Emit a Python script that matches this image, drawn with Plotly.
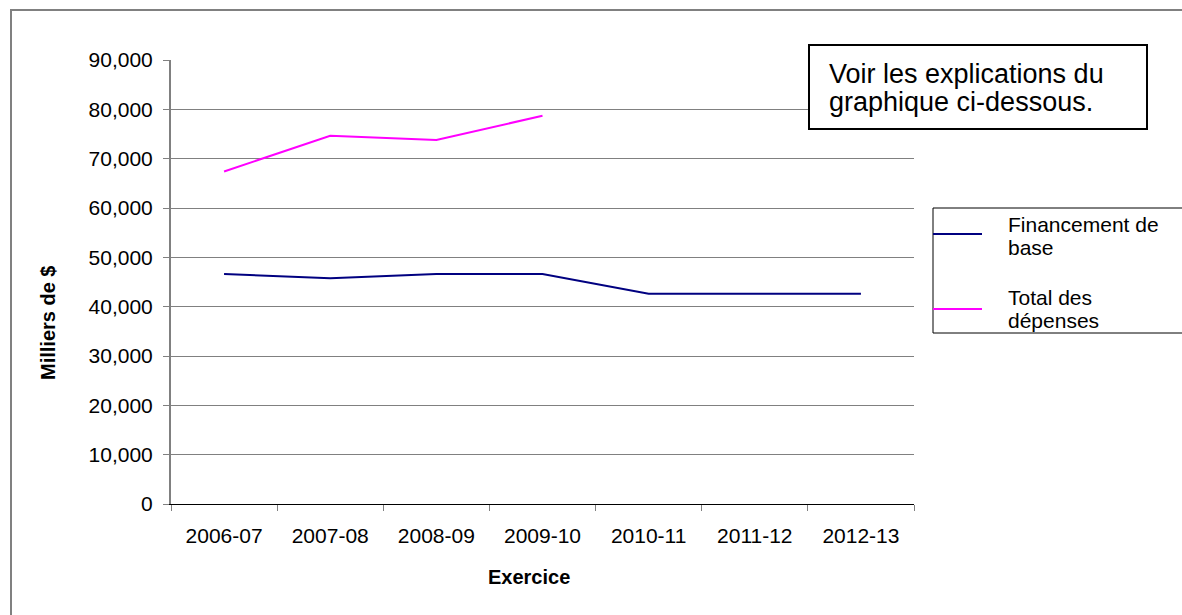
import plotly.graph_objects as go

categories = ["2006-07", "2007-08", "2008-09", "2009-10", "2010-11", "2011-12", "2012-13"]
financement_base = [46600, 45750, 46600, 46600, 42600, 42600, 42600]
total_depenses = [67400, 74650, 73800, 78700, None, None, None]
y_ticks = [0, 10000, 20000, 30000, 40000, 50000, 60000, 70000, 80000, 90000]
y_ticktext = ["0", "10,000", "20,000", "30,000", "40,000", "50,000", "60,000", "70,000", "80,000", "90,000"]

NAVY = "#000080"
MAGENTA = "#FF00FF"
GRAY = "#808080"
FONT = "Liberation Sans, Arial, sans-serif"

W, H = 1182, 615
L, R, T, B = 171, 914, 60, 504

def px(x):
    return (x - L) / (R - L)

def py(y):
    return (B - y) / (B - T)

fig = go.Figure()
fig.add_trace(go.Scatter(x=categories, y=financement_base, mode="lines",
                         line=dict(color=NAVY, width=2), name="Financement de base",
                         showlegend=False))
fig.add_trace(go.Scatter(x=categories, y=total_depenses, mode="lines",
                         line=dict(color=MAGENTA, width=2), name="Total des dépenses",
                         showlegend=False, connectgaps=False))

fig.update_layout(
    width=W, height=H, autosize=False,
    margin=dict(l=L, r=W - R, t=T, b=H - B, pad=0),
    paper_bgcolor="white", plot_bgcolor="white",
    font=dict(family=FONT, size=21, color="black"),
    showlegend=False,
)
fig.update_xaxes(
    type="category", range=[-0.5, 6.5],
    showgrid=False, showline=True, linecolor="black", linewidth=1,
    ticks="outside", tickson="boundaries", ticklen=6, tickcolor=GRAY, tickwidth=1,
    ticklabelstandoff=13,
    tickfont=dict(family=FONT, size=21, color="black"),
)
fig.update_yaxes(
    range=[0, 90000], tickvals=y_ticks, ticktext=y_ticktext,
    showgrid=True, gridcolor=GRAY, gridwidth=1,
    showline=True, linecolor=GRAY, linewidth=2,
    ticks="outside", ticklen=6, tickcolor=GRAY, tickwidth=1,
    ticklabelstandoff=6, zeroline=False,
    tickfont=dict(family=FONT, size=21, color="black"),
)

shapes = []
# outer border (extends past the image at right and bottom)
shapes.append(dict(type="rect", xref="paper", yref="paper",
                   x0=px(11), x1=px(1195), y0=py(630), y1=py(10),
                   line=dict(color=GRAY, width=2), fillcolor="rgba(0,0,0,0)", layer="below"))
# note box
shapes.append(dict(type="rect", xref="paper", yref="paper",
                   x0=px(809), x1=px(1147), y0=py(129), y1=py(45),
                   line=dict(color="black", width=2), fillcolor="white"))
# legend box
shapes.append(dict(type="rect", xref="paper", yref="paper",
                   x0=px(933), x1=px(1200), y0=py(333), y1=py(208),
                   line=dict(color="black", width=1), fillcolor="white"))
shapes.append(dict(type="line", xref="paper", yref="paper",
                   x0=px(933), x1=px(982), y0=py(234), y1=py(234),
                   line=dict(color=NAVY, width=2)))
shapes.append(dict(type="line", xref="paper", yref="paper",
                   x0=px(933), x1=px(982), y0=py(309), y1=py(309),
                   line=dict(color=MAGENTA, width=2)))
fig.update_layout(shapes=shapes)

ann = []
def text(t, x, y, size, xanchor="left", bold=False, angle=0):
    ann.append(dict(text=("<b>%s</b>" % t) if bold else t, xref="paper", yref="paper",
                    x=px(x), y=py(y), xanchor=xanchor, yanchor="middle",
                    showarrow=False, textangle=angle,
                    font=dict(family=FONT, size=size, color="black")))

text("Voir les explications du", 827, 74, 27)
text("graphique ci-dessous.", 827, 102, 27)
text("Financement de", 1006, 224, 21)
text("base", 1006, 247, 21)
text("Total des", 1006, 297, 21)
text("dépenses", 1006, 320, 21)
text("Exercice", 529, 577, 20, xanchor="center", bold=True)
text("Milliers de $", 48, 323, 20, xanchor="center", bold=True, angle=-90)
fig.update_layout(annotations=ann)

fig.write_html("out.html", config={"displayModeBar": False},
               post_script="document.body.style.margin='0';document.body.style.overflow='hidden';")
